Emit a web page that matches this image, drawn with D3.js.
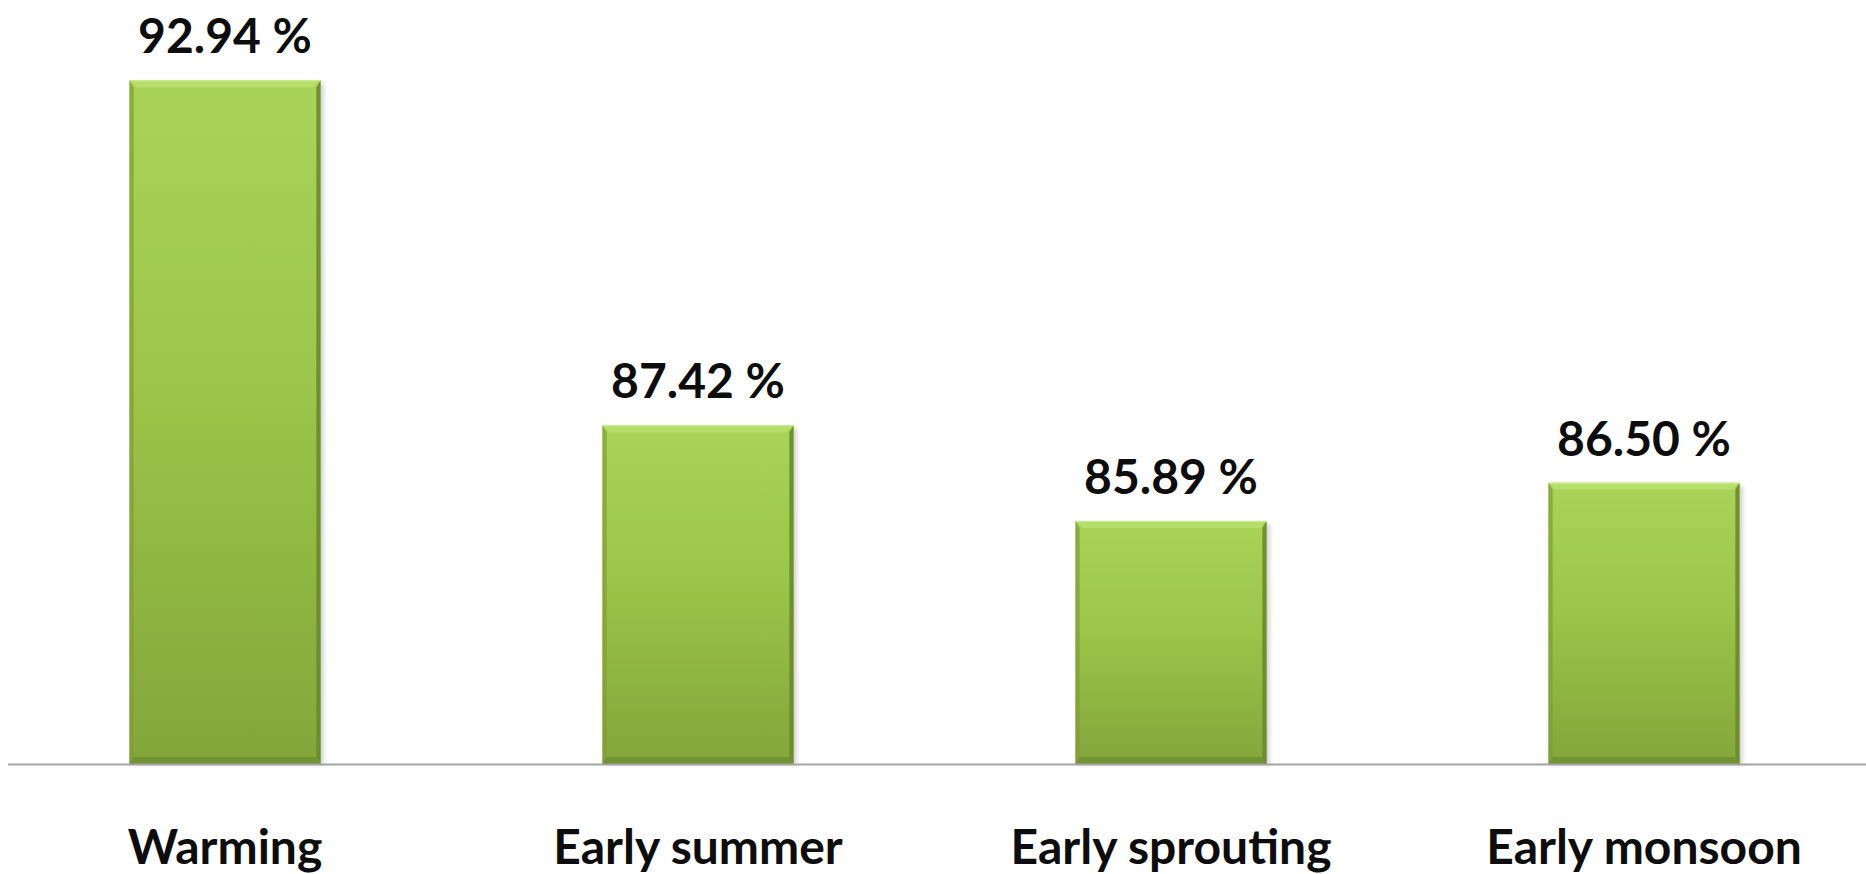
<!DOCTYPE html>
<html>
<head>
<meta charset="utf-8">
<script src="https://cdn.jsdelivr.net/npm/d3@7"></script>
<style>
  html, body { margin: 0; padding: 0; background: #ffffff; }
  svg { display: block; }
  text { font-family: Lato, "Open Sans", sans-serif; font-weight: 700; fill: #0d0d0d; }
</style>
</head>
<body>
<svg id="chart" width="1866" height="874"></svg>
<script>
// Share of responses per perceived climate indicator (%)
const categories = ["Warming", "Early summer", "Early sprouting", "Early monsoon"];
const values = [92.94, 87.42, 85.89, 86.50];
const valueLabels = ["92.94 %", "87.42 %", "85.89 %", "86.50 %"];
const yDomain = [82, 94];

const W = 1866, H = 874;
const baseY = 764;
const svg = d3.select("#chart");

const x = d3.scaleBand()
  .domain(categories)
  .range([-11.5, 1880.5])
  .paddingInner(0.596)
  .paddingOuter(0.298);

const y = d3.scaleLinear()
  .domain(yDomain)
  .range([baseY, 14]);

const defs = svg.append("defs");

const body = defs.append("linearGradient")
  .attr("id", "barBody").attr("x1", 0).attr("y1", 0).attr("x2", 0).attr("y2", 1);
body.append("stop").attr("offset", "0%").attr("stop-color", "#a9d457");
body.append("stop").attr("offset", "45%").attr("stop-color", "#9cc549");
body.append("stop").attr("offset", "100%").attr("stop-color", "#83a63a");

const shadow = defs.append("filter").attr("id", "soft")
  .attr("x", "-10%").attr("y", "-10%").attr("width", "120%").attr("height", "120%");
shadow.append("feGaussianBlur").attr("stdDeviation", 2);

const bev = 7;

const bars = svg.append("g").selectAll("g.bar")
  .data(categories.map((c, i) => ({ c, v: values[i], label: valueLabels[i] })))
  .join("g").attr("class", "bar");

bars.each(function(d) {
  const g = d3.select(this);
  const x0 = x(d.c), w = x.bandwidth(), x1 = x0 + w;
  const y0 = y(d.v), y1 = y(yDomain[0]);

  // soft drop shadow on the right and bottom
  g.append("rect")
    .attr("x", x0 + 3).attr("y", y0 + 3)
    .attr("width", w).attr("height", y1 - y0 - 2)
    .attr("fill", "#9a9a9a").attr("opacity", 0.45)
    .attr("filter", "url(#soft)");

  g.append("rect")
    .attr("x", x0).attr("y", y0)
    .attr("width", w).attr("height", y1 - y0)
    .attr("fill", "url(#barBody)");

  // bevel edges
  g.append("polygon")
    .attr("points", [[x0, y0], [x1, y0], [x1 - bev, y0 + bev], [x0 + bev, y0 + bev]].join(" "))
    .attr("fill", "#b6de6a");
  g.append("polygon")
    .attr("points", [[x0, y0], [x0 + bev * 0.6, y0 + bev], [x0 + bev * 0.6, y1 - bev], [x0, y1]].join(" "))
    .attr("fill", "#7f9f37").attr("opacity", 0.75);
  g.append("polygon")
    .attr("points", [[x1, y0], [x1 - bev * 0.6, y0 + bev], [x1 - bev * 0.6, y1 - bev], [x1, y1]].join(" "))
    .attr("fill", "#6a8a2b").attr("opacity", 0.9);
  g.append("polygon")
    .attr("points", [[x0, y1], [x0 + bev * 0.6, y1 - bev], [x1 - bev * 0.6, y1 - bev], [x1, y1]].join(" "))
    .attr("fill", "#6f8f30").attr("opacity", 0.85);
  g.append("line")
    .attr("x1", x0).attr("x2", x1).attr("y1", y0 + 0.5).attr("y2", y0 + 0.5)
    .attr("stroke", "#d4ee9a").attr("stroke-width", 1);

  g.append("text")
    .attr("x", x0 + w / 2)
    .attr("y", y0 - 27)
    .attr("text-anchor", "middle")
    .attr("font-size", 48)
    .text(d.label);
});

// baseline
svg.append("line")
  .attr("x1", 8).attr("x2", W)
  .attr("y1", baseY + 0.5).attr("y2", baseY + 0.5)
  .attr("stroke", "#a3a3a3").attr("stroke-width", 2);

// category axis
const xAxis = svg.append("g")
  .attr("transform", `translate(0,${baseY})`)
  .call(d3.axisBottom(x).tickSize(0).tickPadding(0));
xAxis.select(".domain").remove();
xAxis.selectAll("text")
  .attr("dy", 0)
  .attr("y", 100)
  .attr("font-size", 48)
  .style("font-family", "Lato, 'Open Sans', sans-serif")
  .style("font-weight", 700)
  .attr("fill", "#0d0d0d");
</script>
</body>
</html>
